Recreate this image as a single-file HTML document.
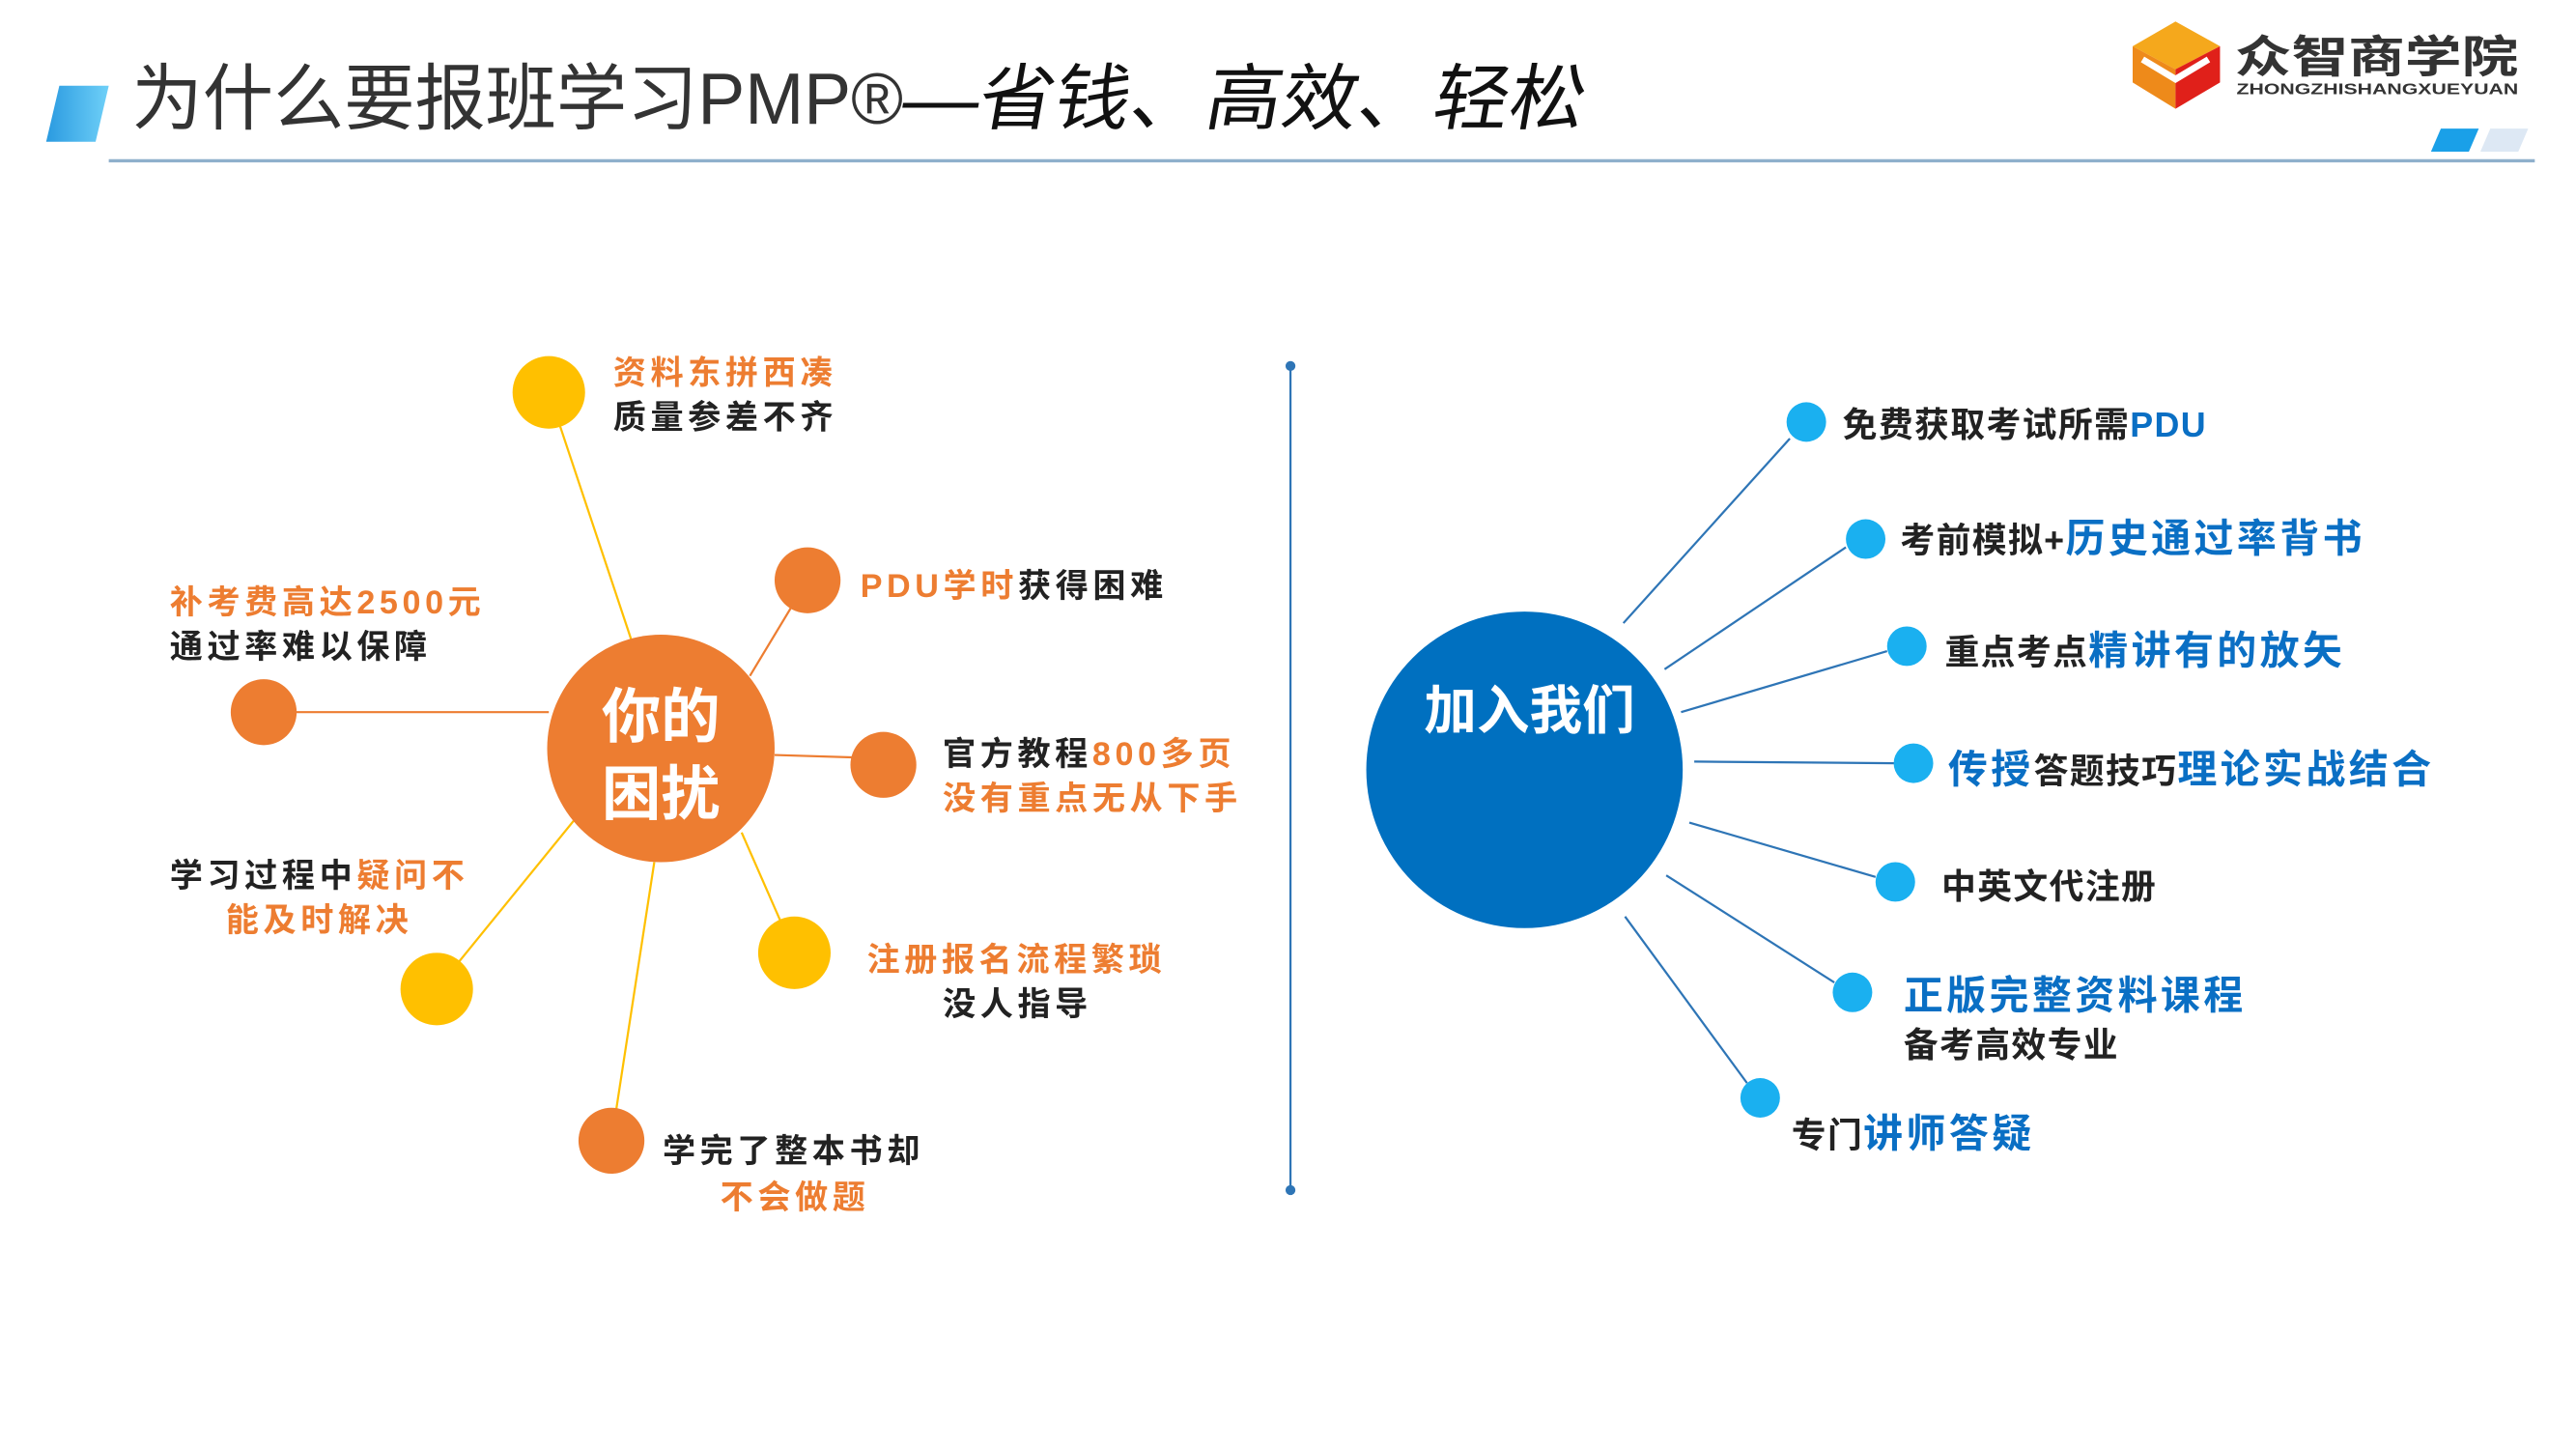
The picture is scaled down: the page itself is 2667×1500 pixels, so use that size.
<!DOCTYPE html>
<html><head><meta charset="utf-8"><style>
html,body{margin:0;padding:0;background:#fff;}
svg{display:block;}
text{font-family:"Liberation Sans","Noto Sans CJK SC",sans-serif;font-weight:bold;}
.o{fill:#ed7d31}.k{fill:#222}.b{fill:#0a6fc4}
.L{letter-spacing:2.7px}
.s{letter-spacing:0.8px}.m{letter-spacing:2px}
</style></head><body>
<svg width="2667" height="1500" viewBox="0 0 1563 879" xmlns="http://www.w3.org/2000/svg">
<defs><linearGradient id="g" x1="0" x2="1"><stop offset="0" stop-color="#2a9ae0"/><stop offset="1" stop-color="#6fd0f8"/></linearGradient></defs>
<polygon points="36,52 66,52 58,86 28,86" fill="url(#g)"/>
<text x="80" y="75" font-size="44" fill="#333" textLength="468" lengthAdjust="spacingAndGlyphs" style="font-weight:normal">为什么要报班学习PMP®</text>
<text x="546" y="75" font-size="44" fill="#111" textLength="414" lengthAdjust="spacingAndGlyphs" transform="skewX(-10) translate(13,0)" style="font-weight:normal">—省钱、高效、轻松</text>
<line x1="66" y1="97.5" x2="1538" y2="97.5" stroke="#8fb0cc" stroke-width="2"/>
<polygon points="1481,78 1504,78 1498,92 1475,92" fill="#1aa0e8"/>
<polygon points="1511,78 1534,78 1528,92 1505,92" fill="#dde8f4"/>
<polygon points="1320,13 1347,28 1320,42 1294,28" fill="#f5a81c"/>
<polygon points="1294,28 1320,42 1320,66 1294,50" fill="#ee8a1a"/>
<polygon points="1347,28 1347,50 1320,66 1320,42" fill="#e0201a"/>
<polyline points="1300,36 1320,48 1340,36" fill="none" stroke="#fff" stroke-width="4"/>
<text x="1356" y="44" font-size="27" fill="#333" textLength="172" lengthAdjust="spacingAndGlyphs">众智商学院</text>
<text x="1357" y="57" font-size="9" fill="#333" textLength="171" lengthAdjust="spacingAndGlyphs">ZHONGZHISHANGXUEYUAN</text>
<g stroke-width="1.3">
<line x1="333" y1="238" x2="383" y2="388" stroke="#ffc000"/>
<line x1="490" y1="352" x2="455" y2="410" stroke="#ed7d31"/>
<line x1="160" y1="432" x2="333" y2="432" stroke="#ed7d31"/>
<line x1="536" y1="460" x2="470" y2="458" stroke="#ed7d31"/>
<line x1="482" y1="578" x2="450" y2="505" stroke="#ffc000"/>
<line x1="265" y1="600" x2="348" y2="498" stroke="#ffc000"/>
<line x1="371" y1="692" x2="397" y2="523" stroke="#ffc000"/>
</g>
<circle cx="401" cy="454" r="69" fill="#ed7d31"/>
<text x="401" y="447" font-size="36" fill="#fff" text-anchor="middle">你的</text>
<text x="401" y="494" font-size="36" fill="#fff" text-anchor="middle">困扰</text>
<g fill="#ffc000"><circle cx="333" cy="238" r="22"/><circle cx="482" cy="578" r="22"/><circle cx="265" cy="600" r="22"/></g>
<g fill="#ed7d31"><circle cx="490" cy="352" r="20"/><circle cx="160" cy="432" r="20"/><circle cx="536" cy="464" r="20"/><circle cx="371" cy="692" r="20"/></g>
<g font-size="20" class="L">
<text x="372" y="233" class="o">资料东拼西凑</text>
<text x="372" y="260" class="k">质量参差不齐</text>
<text x="522" y="362"><tspan class="o">PDU学时</tspan><tspan class="k">获得困难</tspan></text>
<text x="103" y="372" class="o">补考费高达2500元</text>
<text x="103" y="399" class="k">通过率难以保障</text>
<text x="572" y="464"><tspan class="k">官方教程</tspan><tspan class="o">800多页</tspan></text>
<text x="572" y="491" class="o">没有重点无从下手</text>
<text x="103" y="538"><tspan class="k">学习过程中</tspan><tspan class="o">疑问不</tspan></text>
<text x="137" y="565" class="o">能及时解决</text>
<text x="526" y="589" class="o">注册报名流程繁琐</text>
<text x="572" y="616" class="k">没人指导</text>
<text x="402" y="705" class="k">学完了整本书却</text>
<text x="437" y="733" class="o">不会做题</text>
</g>
<line x1="783" y1="222" x2="783" y2="722" stroke="#2e75b6" stroke-width="1.3"/>
<circle cx="783" cy="222" r="3" fill="#2e75b6"/><circle cx="783" cy="722" r="3" fill="#2e75b6"/>
<g stroke="#2e75b6" stroke-width="1.3">
<line x1="985" y1="378" x2="1086" y2="266"/>
<line x1="1010" y1="406" x2="1120" y2="332"/>
<line x1="1020" y1="432" x2="1145" y2="395"/>
<line x1="1028" y1="462" x2="1150" y2="463"/>
<line x1="1025" y1="499" x2="1138" y2="532"/>
<line x1="1011" y1="531" x2="1113" y2="596"/>
<line x1="986" y1="556" x2="1060" y2="657"/>
</g>
<circle cx="925" cy="467" r="96" fill="#0070c0"/>
<text x="928" y="442" font-size="32" fill="#fff" text-anchor="middle">加入我们</text>
<g fill="#1ab0f0"><circle cx="1096" cy="256" r="12"/><circle cx="1132" cy="327" r="12"/><circle cx="1157" cy="392" r="12"/><circle cx="1161" cy="463" r="12"/><circle cx="1150" cy="535" r="12"/><circle cx="1124" cy="602" r="12"/><circle cx="1068" cy="666" r="12"/></g>
<text x="1118" y="265" font-size="21"><tspan class="k s">免费获取考试所需</tspan><tspan class="b s">PDU</tspan></text>
<text x="1153" y="335"><tspan class="k s" font-size="21">考前模拟+</tspan><tspan class="b m" font-size="24">历史通过率背书</tspan></text>
<text x="1180" y="403"><tspan class="k s" font-size="21">重点考点</tspan><tspan class="b m" font-size="24">精讲有的放矢</tspan></text>
<text x="1182" y="475"><tspan class="b m" font-size="24">传授</tspan><tspan class="k s" font-size="21">答题技巧</tspan><tspan class="b m" font-size="24">理论实战结合</tspan></text>
<text x="1178" y="545" font-size="21" class="k s">中英文代注册</text>
<text x="1155" y="612" font-size="24" class="b m">正版完整资料课程</text>
<text x="1155" y="641" font-size="21" class="k s">备考高效专业</text>
<text x="1087" y="696"><tspan class="k s" font-size="21">专门</tspan><tspan class="b m" font-size="24">讲师答疑</tspan></text>
</svg>
</body></html>
